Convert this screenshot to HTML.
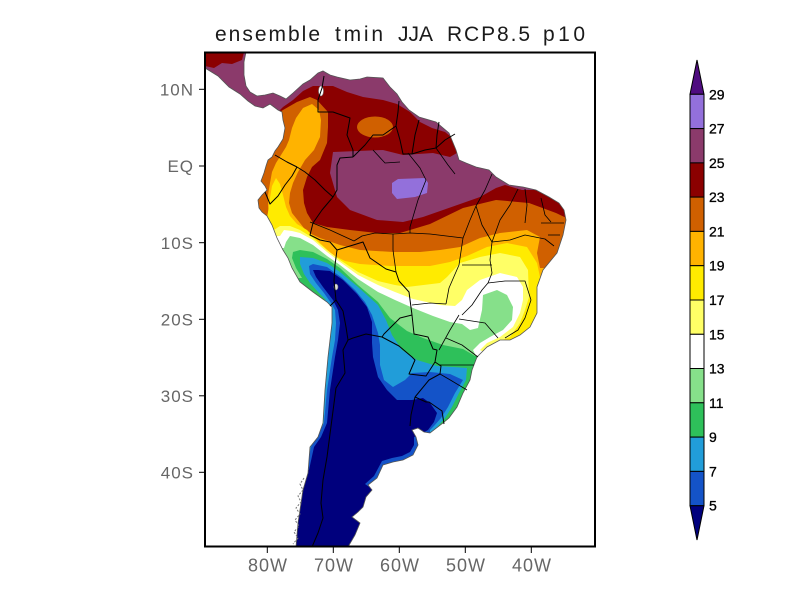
<!DOCTYPE html>
<html>
<head>
<meta charset="utf-8">
<style>
html,body{margin:0;padding:0;background:#fff;}
svg{display:block;}
</style>
</head>
<body>
<svg width="800" height="600" viewBox="0 0 800 600" xmlns="http://www.w3.org/2000/svg">
<rect x="0" y="0" width="800" height="600" fill="#ffffff"/>
<defs>
<clipPath id="frame"><rect x="205" y="52" width="390" height="495"/></clipPath>
<clipPath id="land"><polygon points="205,52 246,52 244,62 244,75 246,86 250,92 257,96 265,95 273,93 280,96 286,99 293,93 303,84 310,80 318,73 323,71 330,75 337,77 350,80 360,79 367,77 383,78 390,87 397,94 402,102 409,110 419,117 436,122 449,133 456,150 459,160 466,163 476,167 489,170 496,177 509,185 523,187 536,190 549,197 559,203 564,210 566,220 563,235 557,253 543,270 537,287 537,313 530,327 520,335 510,340 500,340 487,347 477,357 472,370 470,380 463,393 457,407 449,418 443,423 430,433 424,432 418,428 412,430 416,437 418,445 413,455 403,460 393,462 383,465 377,478 368,485 372,490 366,497 363,507 358,512 352,517 360,523 355,535 348,547 296,547 298,523 303,490 308,473 310,447 318,437 323,423 325,390 328,357 330,340 332,323 332,307 327,302 313,292 300,282 292,268 288,258 283,250 277,238 272,225 267,216 262,212 259,208 258,200 262,195 267,190 265,186 261,181 264,173 266,166 268,160 272,157 275,151 278,147 283,139 285,128 283,120 282,112 278,110 270,104 263,108 255,106 248,101 240,94 229,87 218,76 205,68"/></clipPath>
</defs>

<g clip-path="url(#frame)">
<g clip-path="url(#land)">
  <rect x="195" y="40" width="420" height="570" fill="#8b3a6b"/>
  <polygon fill="#8b0000" points="200,112 278,112 283,107 293,100 303,91 313,86 333,86 347,92 363,97 383,100 397,104 410,112 420,122 432,128 445,132 455,140 462,150 450,157 433,153 403,155 383,150 333,152 330,173 337,197 350,210 377,220 403,222 423,217 443,210 463,203 480,197 496,188 505,185 522,190 610,190 610,610 200,610"/>
  <polygon fill="#8b0000" points="205,52 244,52 242,60 232,64 222,63 214,68 205,66"/>
  <polygon fill="#9370db" points="392,183 398,179 425,178 428,183 427,193 415,197 397,199 392,193"/>
  <ellipse cx="375" cy="127" rx="18" ry="10.5" fill="#d06000"/>
  <polygon fill="#d06000" points="200,118 270,118 283,110 297,102 310,97 317,100 328,112 328,127 327,143 320,160 312,167 307,177 303,190 304,203 307,213 313,223 327,227 350,230 377,233 400,233 430,224 463,208 496,200 529,203 556,213 575,222 610,222 610,610 200,610"/>
  <polygon fill="#ffb300" points="200,610 200,228 268,226 269,215 268,205 268,195 270,183 272,172 276,163 281,155 286,147 289,140 292,128 296,118 303,108 312,104 319,110 321,120 320,137 314,150 305,160 298,172 293,183 290,193 289,203 292,213 300,223 307,232 320,238 340,245 360,250 393,252 420,252 440,250 460,247 480,238 500,233 527,230 540,237 537,253 540,268 560,268 610,268 610,610"/>
  <polygon fill="#ffeb00" points="200,610 200,226 266,223 268,212 270,198 272,186 276,178 280,184 283,195 286,207 290,216 297,224 307,230 320,243 333,255 345,261 360,264 390,266 430,266 450,262 467,256 487,247 507,243 527,247 537,263 540,277 560,280 610,280 610,610"/>
  <polygon fill="#ffff66" points="200,610 200,232 274,230 280,226 290,226 300,230 313,238 327,250 340,260 358,272 378,281 395,285 407,287 440,283 447,277 460,263 480,257 500,253 520,257 528,270 529,297 525,310 520,323 510,337 500,341 505,350 610,350 610,610"/>
  <polygon fill="#ffffff" points="200,610 200,240 280,236 284,230 292,231 300,233 313,240 327,252 340,262 358,275 378,285 395,292 413,299 440,305 455,306 462,300 467,290 480,280 500,273 517,277 523,287 523,300 520,313 513,327 500,337 487,343 480,350 490,355 610,355 610,610"/>
  <polygon fill="#86e08a" points="200,610 200,250 284,248 286,242 290,236 300,238 313,245 327,256 340,265 358,279 378,292 395,300 413,308 433,316 450,322 462,324 470,330 478,328 482,310 483,295 497,290 507,295 513,307 512,320 503,330 490,337 480,343 473,350 478,360 610,360 610,610"/>
  <polygon fill="#2ec05a" points="200,610 200,280 302,278 296,268 292,258 293,252 300,250 313,252 327,259 340,268 358,285 378,302 390,318 407,331 423,338 443,345 463,349 475,356 610,356 610,610"/>
  <polygon fill="#219dd9" points="200,610 200,302 326,300 318,292 310,283 304,274 300,264 300,257 313,258 327,263 340,272 358,287 378,305 386,320 392,335 402,350 417,360 437,366 453,367 467,368 466,380 459,393 452,407 445,418 438,426 433,432 433,445 610,445 610,610"/>
  <polygon fill="#1453c8" points="200,610 200,470 306,470 311,447 317,437 324,423 327,390 332,357 335,340 336,323 335,310 331,303 324,293 316,283 310,274 309,266 313,264 327,267 341,277 355,290 365,302 372,315 378,333 380,345 380,365 384,380 393,387 405,380 412,373 430,372 450,374 463,380 455,393 448,407 441,418 434,426 430,430 430,445 610,445 610,610"/>
  <polygon fill="#00007d" points="200,610 200,470 309,470 314,447 321,437 327,423 330,390 335,357 338,340 340,323 338,310 333,300 323,287 316,277 313,270 318,270 330,271 343,280 357,294 367,307 372,322 372,343 373,357 378,377 387,390 397,400 412,400 423,398 430,403 437,413 434,422 428,430 421,434 414,437 414,445 410,452 402,456 392,458 382,461 374,476 365,484 380,495 380,610"/>
  <ellipse cx="321" cy="91" rx="2.5" ry="5" fill="#fff" stroke="#777" stroke-width="0.6"/>
  <ellipse cx="336" cy="287" rx="2" ry="3" fill="#ddd" stroke="#777" stroke-width="0.6"/>
</g>

<polygon fill="none" stroke="#555" stroke-width="0.8" points="205,52 246,52 244,62 244,75 246,86 250,92 257,96 265,95 273,93 280,96 286,99 293,93 303,84 310,80 318,73 323,71 330,75 337,77 350,80 360,79 367,77 383,78 390,87 397,94 402,102 409,110 419,117 436,122 449,133 456,150 459,160 466,163 476,167 489,170 496,177 509,185 523,187 536,190 549,197 559,203 564,210 566,220 563,235 557,253 543,270 537,287 537,313 530,327 520,335 510,340 500,340 487,347 477,357 472,370 470,380 463,393 457,407 449,418 443,423 430,433 424,432 418,428 412,430 416,437 418,445 413,455 403,460 393,462 383,465 377,478 368,485 372,490 366,497 363,507 358,512 352,517 360,523 355,535 348,547 296,547 298,523 303,490 308,473 310,447 318,437 323,423 325,390 328,357 330,340 332,323 332,307 327,302 313,292 300,282 292,268 288,258 283,250 277,238 272,225 267,216 262,212 259,208 258,200 262,195 267,190 265,186 261,181 264,173 266,166 268,160 272,157 275,151 278,147 283,139 285,128 283,120 282,112 278,110 270,104 263,108 255,106 248,101 240,94 229,87 218,76 205,68"/>
<polyline fill="none" stroke="#777" stroke-width="1" stroke-dasharray="2,1.5" points="304,478 300,484 303,490 298,496 301,502 296,508 300,514 295,520 299,526 294,532 298,538 293,544"/>

<g fill="none" stroke="#000" stroke-width="1" stroke-linejoin="round">
  <polyline points="324,76 322,88 318,100 318,112 333,112 350,118 347,135 353,150 353,157"/>
  <polyline points="353,157 340,158 337,165 337,190 333,197"/>
  <polyline points="275,155 287,162 297,167"/>
  <polyline points="297,167 305,172 315,180 325,190 333,197"/>
  <polyline points="265,192 270,204 278,196 285,185 292,176 297,167"/>
  <polyline points="333,197 322,210 313,223 310,235 320,240 330,242 337,250"/>
  <polyline points="337,250 335,265 334,281 336,300 330,306"/>
  <polyline points="337,250 350,246 363,242 370,258 386,269 396,272 399,281 409,292 412,315"/>
  <polyline points="336,300 343,311 346,327 348,340"/>
  <polyline points="412,315 400,318 384,334 382,337"/>
  <polyline points="382,337 366,334 353,338 348,340"/>
  <polyline points="348,340 343,350 345,373 336,388 333,411 330,434 327,457 323,480 321,503 323,518 318,533 312,547"/>
  <polyline points="382,337 399,346 412,357 415,360 409,374 426,376 435,362"/>
  <polyline points="412,315 414,334 428,337 433,349 437,350 435,362"/>
  <polyline points="435,362 441,366 440,374 429,380 415,397"/>
  <polyline points="415,397 411,415 410,426"/>
  <polyline points="415,397 426,402 429,402 442,411 444,424"/>
  <polyline points="353,157 358,152 365,145 373,135 383,135 396,126"/>
  <polyline points="396,126 398,112 399,101"/>
  <polyline points="396,126 400,140 403,154 412,154"/>
  <polyline points="419,120 415,135 412,154"/>
  <polyline points="412,154 425,150 436,148"/>
  <polyline points="439,122 437,135 436,148"/>
  <polyline points="436,148 445,140 455,134"/>
</g>
<!-- Brazilian state borders -->
<g fill="none" stroke="#000" stroke-width="0.8" stroke-linejoin="round">
  <polyline points="408,153 420,168 426,180 418,200 410,227 410,233"/>
  <polyline points="393,234 410,233 430,234 463,238"/>
  <polyline points="310,222 330,230 354,241"/>
  <polyline points="354,241 362,236 375,233 393,234"/>
  <polyline points="393,234 393,250 396,272"/>
  <polyline points="463,238 470,220 476,206"/>
  <polyline points="476,206 485,190 492,174"/>
  <polyline points="476,206 482,225 492,242"/>
  <polyline points="518,189 510,205 500,220 492,242"/>
  <polyline points="525,189 527,205 525,223"/>
  <polyline points="541,198 545,215 551,222"/>
  <polyline points="541,223 564,223"/>
  <polyline points="548,235 560,235"/>
  <polyline points="492,242 510,240 525,235 545,239 554,246"/>
  <polyline points="492,242 490,260 492,273 488,283"/>
  <polyline points="462,265 492,265"/>
  <polyline points="463,238 459,265 449,288 446,304"/>
  <polyline points="488,283 505,281 525,281 531,300"/>
  <polyline points="488,283 482,290 472,305 462,315"/>
  <polyline points="459,319 485,323 498,338"/>
  <polyline points="531,300 525,318 518,330 505,338"/>
  <polyline points="446,338 462,345 478,357"/>
  <polyline points="439,365 474,365"/>
  <polyline points="440,374 452,381 467,390"/>
  <polyline points="459,315 450,330 439,350"/>
  <polyline points="412,305 430,303 446,304"/>
  <polyline points="373,150 385,163 400,162"/>
  <polyline points="436,148 448,165 455,174"/>
</g>
</g>

<rect x="205" y="52.5" width="390" height="494" fill="none" stroke="#000" stroke-width="2"/>

<g stroke="#000" stroke-width="1">
  <line x1="199" y1="89.3" x2="205" y2="89.3"/>
  <line x1="199" y1="166" x2="205" y2="166"/>
  <line x1="199" y1="242.7" x2="205" y2="242.7"/>
  <line x1="199" y1="319.3" x2="205" y2="319.3"/>
  <line x1="199" y1="395.8" x2="205" y2="395.8"/>
  <line x1="199" y1="472.3" x2="205" y2="472.3"/>
  <line x1="267.3" y1="547" x2="267.3" y2="553"/>
  <line x1="333.3" y1="547" x2="333.3" y2="553"/>
  <line x1="399.3" y1="547" x2="399.3" y2="553"/>
  <line x1="465.3" y1="547" x2="465.3" y2="553"/>
  <line x1="531.3" y1="547" x2="531.3" y2="553"/>
</g>
<g font-family="Liberation Sans, sans-serif" font-size="17" fill="#666" text-anchor="end" letter-spacing="1">
  <text x="194" y="95.5">10N</text>
  <text x="194" y="172">EQ</text>
  <text x="194" y="249">10S</text>
  <text x="194" y="325.5">20S</text>
  <text x="194" y="402">30S</text>
  <text x="194" y="478.5">40S</text>
</g>
<g font-family="Liberation Sans, sans-serif" font-size="18" fill="#666" text-anchor="middle" letter-spacing="1">
  <text x="268" y="571.5">80W</text>
  <text x="334" y="571.5">70W</text>
  <text x="400" y="571.5">60W</text>
  <text x="466" y="571.5">50W</text>
  <text x="532" y="571.5">40W</text>
</g>

<g font-family="Liberation Sans, sans-serif" font-size="21" fill="#1a1a1a">
  <text x="215" y="41" textLength="105" lengthAdjust="spacing">ensemble</text>
  <text x="335" y="41" textLength="48" lengthAdjust="spacing">tmin</text>
  <text x="398" y="41" textLength="35" lengthAdjust="spacing">JJA</text>
  <text x="447" y="41" textLength="83" lengthAdjust="spacing">RCP8.5</text>
  <text x="543" y="41" textLength="42" lengthAdjust="spacing">p10</text>
</g>

<g stroke="#000" stroke-width="1">
  <polygon points="690,94.3 704,94.3 697,60" fill="#4f0c80"/>
  <rect x="690" y="94.3" width="14" height="34.3" fill="#9370db"/>
  <rect x="690" y="128.6" width="14" height="34.3" fill="#8b3a6b"/>
  <rect x="690" y="162.9" width="14" height="34.3" fill="#8b0000"/>
  <rect x="690" y="197.1" width="14" height="34.3" fill="#d06000"/>
  <rect x="690" y="231.4" width="14" height="34.3" fill="#ffb300"/>
  <rect x="690" y="265.7" width="14" height="34.3" fill="#ffeb00"/>
  <rect x="690" y="300" width="14" height="34.3" fill="#ffff66"/>
  <rect x="690" y="334.3" width="14" height="34.3" fill="#ffffff"/>
  <rect x="690" y="368.5" width="14" height="34.3" fill="#86e08a"/>
  <rect x="690" y="402.8" width="14" height="34.3" fill="#2ec05a"/>
  <rect x="690" y="437.1" width="14" height="34.3" fill="#219dd9"/>
  <rect x="690" y="471.4" width="14" height="34.3" fill="#1453c8"/>
  <polygon points="690,505.7 704,505.7 697,540" fill="#00007d"/>
</g>
<g font-family="Liberation Sans, sans-serif" font-size="14" fill="#000" stroke="#000" stroke-width="0.3">
  <text x="709" y="99.3">29</text>
  <text x="709" y="133.6">27</text>
  <text x="709" y="167.9">25</text>
  <text x="709" y="202.1">23</text>
  <text x="709" y="236.4">21</text>
  <text x="709" y="270.7">19</text>
  <text x="709" y="305">17</text>
  <text x="709" y="339.3">15</text>
  <text x="709" y="373.5">13</text>
  <text x="709" y="407.8">11</text>
  <text x="709" y="442.1">9</text>
  <text x="709" y="476.4">7</text>
  <text x="709" y="510.7">5</text>
</g>
</svg>
</body>
</html>
